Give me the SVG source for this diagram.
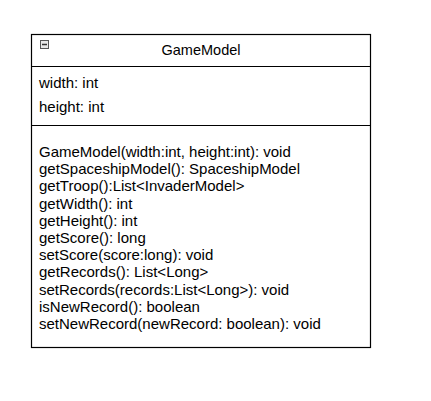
<svg xmlns="http://www.w3.org/2000/svg" width="431" height="401" viewBox="0 0 431 401">
<style>
text{font-family:"Liberation Sans",Arial,sans-serif;font-size:15px;fill:#000}
.box{fill:#fff;stroke:#000;stroke-width:1.2}
.sep{stroke:#000;stroke-width:1.2}
</style>
<rect width="431" height="401" fill="#fff"/>
<g id="GameModel">
<rect class="box" x="31.5" y="34.5" width="339" height="313"/>
<line class="sep" x1="31.5" y1="66.5" x2="370.5" y2="66.5"/>
<line class="sep" x1="31.5" y1="125.5" x2="370.5" y2="125.5"/>
<g id="collapse-icon">
<rect x="40.5" y="40.5" width="8" height="8" fill="#e8e8e8" stroke="#555" stroke-width="1"/>
<line x1="42" y1="44.5" x2="47" y2="44.5" stroke="#333" stroke-width="1.5"/>
</g>
<text x="201" y="55" text-anchor="middle" style="font-size:14.5px">GameModel</text>
<text x="39" y="88">width: int</text>
<text x="39" y="112">height: int</text>
<text x="39" y="157">GameModel(width:int, height:int): void</text>
<text x="39" y="174.2">getSpaceshipModel(): SpaceshipModel</text>
<text x="39" y="191.4">getTroop():List&lt;InvaderModel&gt;</text>
<text x="39" y="208.6">getWidth(): int</text>
<text x="39" y="225.8">getHeight(): int</text>
<text x="39" y="243">getScore(): long</text>
<text x="39" y="260.2">setScore(score:long): void</text>
<text x="39" y="277.4">getRecords(): List&lt;Long&gt;</text>
<text x="39" y="294.6">setRecords(records:List&lt;Long&gt;): void</text>
<text x="39" y="311.8">isNewRecord(): boolean</text>
<text x="39" y="329">setNewRecord(newRecord: boolean): void</text>
</g>
<g id="connectors"/>
</svg>
